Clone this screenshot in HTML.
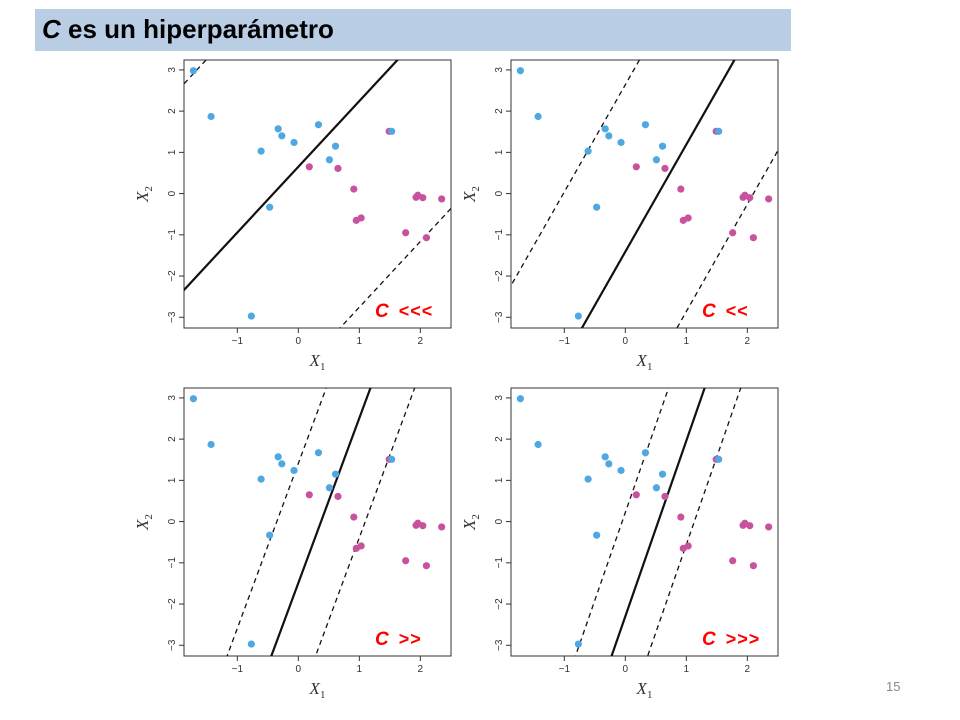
<!DOCTYPE html>
<html style="overflow:hidden"><head><meta charset="utf-8"><style>
html,body{margin:0;background:#fff;width:960px;height:720px;overflow:hidden;font-family:"Liberation Sans",sans-serif}
#band{position:absolute;left:35px;top:9px;width:756px;height:42px;background:#b9cde5}
#title{position:absolute;left:42px;top:14px;font-size:26px;font-weight:bold;color:#000;white-space:nowrap}
#pg{position:absolute;left:886px;top:679px;font-size:13px;color:#888;line-height:15px}
svg{position:absolute;left:0;top:0;display:block}
</style></head><body>
<div id="band"></div>
<div id="title"><i>C</i> es un hiperparámetro</div>
<div id="pg">15</div>
<svg id="chart" width="960" height="720"></svg>
<script>
const blueX=[-1.72,-1.43,-0.33,-0.27,-0.07,-0.61,0.33,0.61,0.51,-0.47,-0.77,1.53];
const blueY=[2.98,1.87,1.57,1.40,1.24,1.03,1.67,1.15,0.82,-0.33,-2.97,1.51];
const pinkX=[1.49,0.18,0.65,0.91,0.95,1.03,1.76,1.93,1.96,2.04,2.35,2.10];
const pinkY=[1.51,0.65,0.61,0.11,-0.65,-0.59,-0.95,-0.09,-0.04,-0.10,-0.13,-1.07];
const slopes=[1.594,2.6,4.0,4.26];
const intercepts=[0.65,-1.41,-1.49,-2.30];
const margins=[5.0,4.05,2.9,2.52];
const cLabels=["<<<","<<",">>",">>>"];
const xTicks=[-1,0,1,2];
const yTicks=[-3,-2,-1,0,1,2,3];
const NS="http://www.w3.org/2000/svg";
const svg=document.getElementById('chart');
function mk(t,a,p){const e=document.createElementNS(NS,t);for(const k in a)e.setAttribute(k,a[k]);(p||svg).appendChild(e);return e;}
const lefts=[184,511,184,511],tops=[60,60,388,388];
const W=267,H=268,X0=-1.874,X1=2.503,Y0=-3.26,Y1=3.24;
for(let p=0;p<4;p++){
  const L=lefts[p],T=tops[p];
  const g=mk('g',{});
  
  
  const sx=v=>L+(v-X0)/(X1-X0)*W, sy=v=>T+H-(v-Y0)/(Y1-Y0)*H;
  const cid='clip'+p;
  const cp=mk('clipPath',{id:cid},g);mk('rect',{x:L,y:T,width:W,height:H},cp);
  const box=mk('rect',{x:L,y:T,width:W,height:H,fill:'none',stroke:'#333','stroke-width':1},g);
  
  
  xTicks.forEach(v=>{mk('line',{x1:sx(v),x2:sx(v),y1:T+H,y2:T+H+5,stroke:'#333'},g);
    const t=mk('text',{x:sx(v),y:T+H+16,'font-size':10,'text-anchor':'middle',fill:'#333'},g);t.textContent=v<0?'\u2212'+(-v):v;
    
    });
  yTicks.forEach(v=>{mk('line',{x1:L-5,x2:L,y1:sy(v),y2:sy(v),stroke:'#333'},g);
    const t=mk('text',{x:L-9,y:sy(v),'font-size':10,'text-anchor':'middle',fill:'#333',transform:`rotate(-90 ${L-9} ${sy(v)})`},g);t.textContent=v<0?'\u2212'+(-v):v;
    
    });
  const xl=mk('text',{x:L+W/2,y:T+H+38,'font-size':17,'font-family':'Liberation Serif,serif','font-style':'italic','text-anchor':'middle',fill:'#333'},g);
  xl.innerHTML='X<tspan font-size="11" dy="4" font-style="normal">1</tspan>';
  
  
  const yx=L-36,yy=T+H/2;
  const yl=mk('text',{x:yx,y:yy,'font-size':17,'font-family':'Liberation Serif,serif','font-style':'italic','text-anchor':'middle',fill:'#333',transform:`rotate(-90 ${yx} ${yy})`},g);
  yl.innerHTML='X<tspan font-size="11" dy="4" font-style="normal">2</tspan>';
  
  
  const lg=mk('g',{'clip-path':`url(#${cid})`},g);
  [[0,'none',2.2,'hyperplane'],[margins[p],'5,4',1.3,'margin-upper'],[-margins[p],'5,4',1.3,'margin-lower']].forEach(([o,d,w,n])=>{
    const f=x=>slopes[p]*x+intercepts[p]+o;
    const ln=mk('line',{x1:sx(X0-1),y1:sy(f(X0-1)),x2:sx(X1+1),y2:sy(f(X1+1)),stroke:'#111','stroke-width':w,'stroke-dasharray':d},lg);
    
    
  });
  pinkX.forEach((x,i)=>{const c=mk('circle',{cx:sx(x),cy:sy(pinkY[i]),r:3.6,fill:'#c9529f'},lg);
    
    });
  blueX.forEach((x,i)=>{const c=mk('circle',{cx:sx(x),cy:sy(blueY[i]),r:3.6,fill:'#4fa8e2'},lg);
    
    });
  const ct=mk('text',{x:L+191,y:T+257,'font-size':19,'font-weight':'bold',fill:'#f00'},g);
  ct.innerHTML='<tspan font-style="italic">C</tspan><tspan font-size="18" dx="10" letter-spacing="1">'+cLabels[p].replace(/</g,'&lt;').replace(/>/g,'&gt;')+'</tspan>';
  
  
}
</script>
</body></html>
